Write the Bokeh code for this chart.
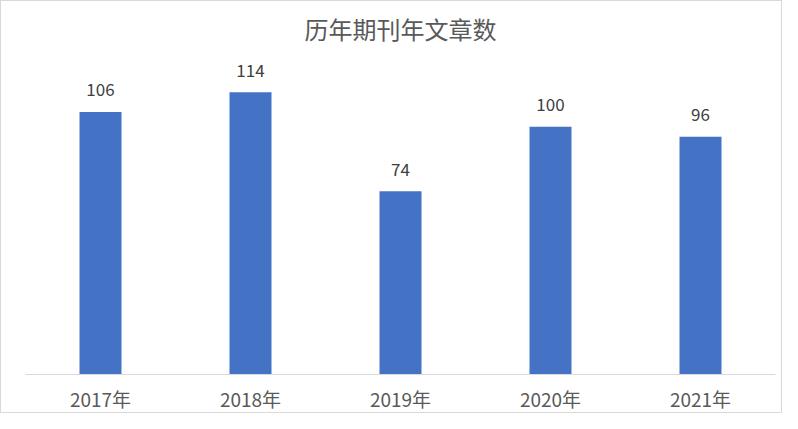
from bokeh.plotting import figure
from bokeh.models import ColumnDataSource, LabelSet, Range1d
from bokeh.core.properties import value
from bokeh.embed import file_html
from bokeh.resources import INLINE

categories = ["2017年", "2018年", "2019年", "2020年", "2021年"]
counts = [106, 114, 74, 100, 96]
title_text = "历年期刊年文章数"

FONT = "Noto Sans CJK SC"

src = ColumnDataSource(dict(cat=categories, val=counts, lab=[str(v) for v in counts]))

p = figure(x_range=categories, y_range=Range1d(0, 130), width=782, height=413,
           output_backend="svg", toolbar_location=None,
           min_border_left=24, min_border_right=8, min_border_top=51, min_border_bottom=10)

p.vbar(x="cat", top="val", width=0.28, source=src, fill_color="#4472C4", line_color=None)

labels = LabelSet(x="cat", y="val", text="lab", source=src, y_offset=22,
                  text_align="center", text_baseline="middle",
                  text_font=value(FONT), text_font_size="17px", text_color="#404040")
p.add_layout(labels)

p.title.text = title_text
p.title.align = "center"
p.title.text_font = FONT
p.title.text_font_size = "24px"
p.title.text_font_style = "normal"
p.title.text_color = "#595959"
p.title.standoff = 13

p.yaxis.visible = False
p.xgrid.grid_line_color = None
p.ygrid.grid_line_color = None
p.outline_line_color = None

p.xaxis.axis_line_color = "#D9D9D9"
p.xaxis.axis_line_width = 1
p.xaxis.major_tick_line_color = None
p.xaxis.minor_tick_line_color = None
p.xaxis.major_tick_out = 0
p.xaxis.major_tick_in = 0
p.xaxis.major_label_standoff = 10
p.xaxis.major_label_text_font = FONT
p.xaxis.major_label_text_font_size = "19px"
p.xaxis.major_label_text_font_style = "normal"
p.xaxis.major_label_text_color = "#595959"

p.styles = {"border": "1px solid #D9D9D9"}

open("out.html", "w").write(file_html(p, INLINE))
